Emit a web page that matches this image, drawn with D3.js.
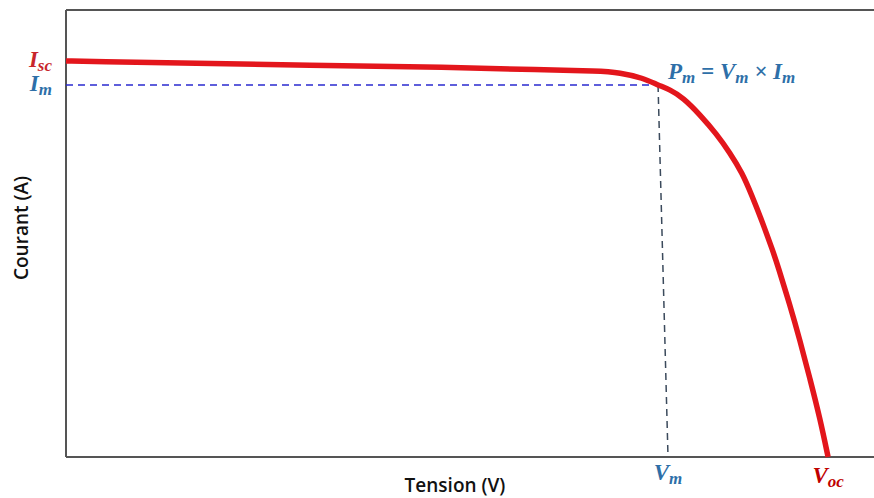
<!DOCTYPE html>
<html>
<head>
<meta charset="utf-8">
<script src="https://cdn.jsdelivr.net/npm/d3@7"></script>
<style>
  body { margin: 0; background: #fff; }
  .axis-label { font-family: "Open Sans", sans-serif; font-weight: 600; font-size: 19px; fill: #111; }
  .math { font-family: "Liberation Serif", serif; font-weight: bold; font-style: italic; }
</style>
</head>
<body>
<div id="chart"></div>
<script>
// data (volts / amps, arbitrary scale)
const voltage = [0, 0.93, 2.83, 6.64, 10.45, 12.9, 14.5, 15.08, 15.71, 16.12, 16.44, 16.80, 17.26, 17.72, 18.08, 18.41, 18.68, 18.95, 19.25, 19.38, 19.71, 19.98, 20.26, 20.53, 20.75];
const current = [4.43, 4.42, 4.41, 4.38, 4.36, 4.33, 4.32, 4.30, 4.24, 4.16, 4.11, 4.02, 3.83, 3.61, 3.40, 3.18, 2.92, 2.64, 2.30, 2.14, 1.70, 1.31, 0.87, 0.43, 0];
const Vm = 16.12, Im = 4.16, Vm_foot = 16.39;
const Isc = 4.43, Voc = 20.75;

const W = 874, H = 498;
const margin = { top: 10, right: 0, bottom: 41, left: 66 };

const svg = d3.select("#chart").append("svg")
  .attr("width", W)
  .attr("height", H);

const x = d3.scaleLinear().domain([0, 22]).range([margin.left, W - margin.right]);
const y = d3.scaleLinear().domain([0, 5]).range([H - margin.bottom, margin.top]);

// frame: left, top, bottom
const frame = "#555";
svg.append("line").attr("x1", x(0)).attr("x2", x(0)).attr("y1", y(5)).attr("y2", y(0))
  .attr("stroke", frame).attr("stroke-width", 2);
svg.append("line").attr("x1", x(0)).attr("x2", x(22)).attr("y1", y(5)).attr("y2", y(5))
  .attr("stroke", frame).attr("stroke-width", 2);
svg.append("line").attr("x1", x(0)).attr("x2", x(22)).attr("y1", y(0)).attr("y2", y(0))
  .attr("stroke", frame).attr("stroke-width", 2);

// dashed guides to the max power point
svg.append("line")
  .attr("x1", x(0)).attr("x2", x(Vm)).attr("y1", y(Im)).attr("y2", y(Im))
  .attr("stroke", "#2a2ad0").attr("stroke-width", 1.5).attr("stroke-dasharray", "7,5");
svg.append("line")
  .attr("x1", x(Vm)).attr("x2", x(Vm_foot)).attr("y1", y(Im)).attr("y2", y(0) - 2)
  .attr("stroke", "#3b4a5c").attr("stroke-width", 1.5).attr("stroke-dasharray", "7,5");

// I-V curve
const pts = voltage.map((v, i) => ({ v, i: current[i] }));
svg.append("path")
  .datum(pts)
  .attr("d", d3.line().x(d => x(d.v)).y(d => y(d.i)).curve(d3.curveBasis))
  .attr("fill", "none")
  .attr("stroke", "#e3161c")
  .attr("stroke-width", 5.5)
  .attr("stroke-linejoin", "round");

// math labels with subscripts
function mathLabel(px, py, parts, color, anchor) {
  const t = svg.append("text").attr("class", "math")
    .attr("x", px).attr("y", py)
    .attr("fill", color)
    .attr("font-size", 23)
    .attr("text-anchor", anchor || "start");
  parts.forEach(p => {
    const s = t.append("tspan").text(p.t);
    if (p.sub) s.attr("font-size", 17).attr("dy", 4);
    else if (p.back) s.attr("dy", -4);
  });
  return t;
}

mathLabel(52, 67, [{ t: "I" }, { t: "sc", sub: true }], "#c8262c", "end");
mathLabel(52, 91, [{ t: "I" }, { t: "m", sub: true }], "#2e6fa8", "end");
mathLabel(x(Vm) + 10, 79, [
  { t: "P" }, { t: "m", sub: true }, { t: " = V", back: true }, { t: "m", sub: true },
  { t: " × I", back: true }, { t: "m", sub: true }
], "#2e6fa8");
mathLabel(x(Vm_foot), 480, [{ t: "V" }, { t: "m", sub: true }], "#2e6fa8", "middle");
mathLabel(x(Voc), 483, [{ t: "V" }, { t: "oc", sub: true }], "#c00000", "middle");

// axis titles
svg.append("text").attr("class", "axis-label")
  .attr("x", 455).attr("y", 492)
  .attr("text-anchor", "middle")
  .text("Tension (V)");
svg.append("text").attr("class", "axis-label")
  .attr("transform", "translate(28,228) rotate(-90)")
  .attr("text-anchor", "middle")
  .text("Courant (A)");
</script>
</body>
</html>
